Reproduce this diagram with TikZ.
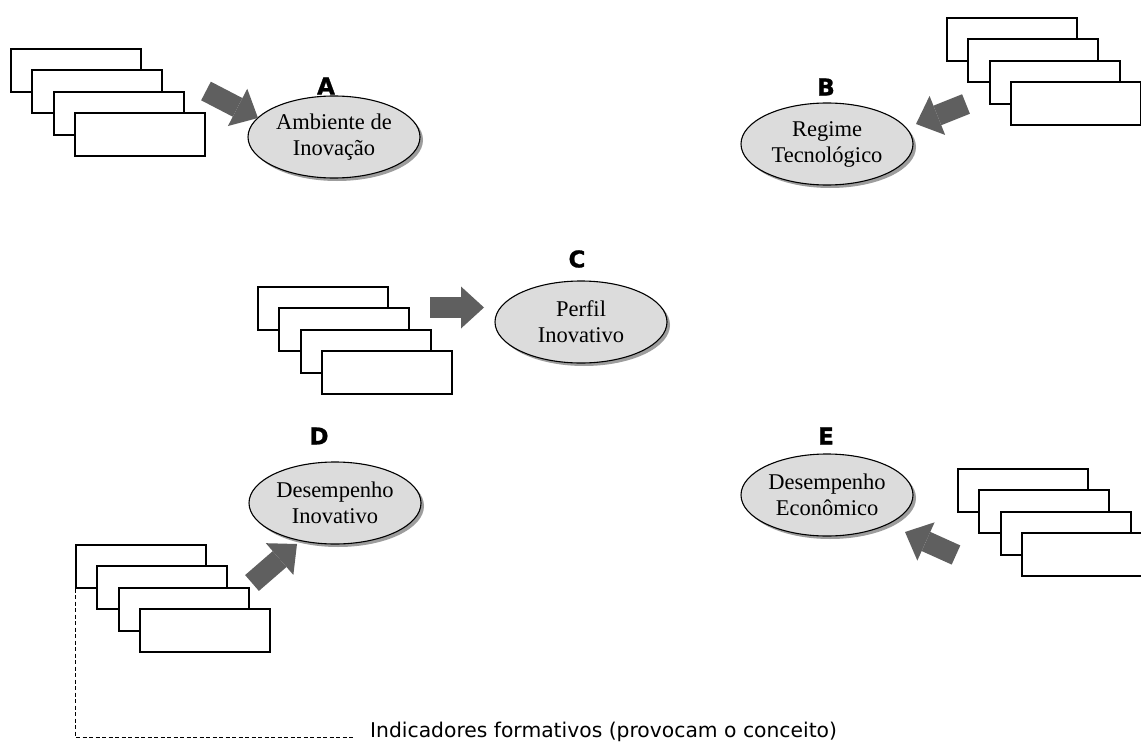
\documentclass[tikz,border=0pt]{standalone}
\usepackage{fontspec}
\setmainfont{Liberation Serif}
\newfontfamily\labfont{DejaVu Sans}
\newfontfamily\heavyfont{DejaVu Sans}[BoldFeatures={FakeBold=1.2}]
\usetikzlibrary{arrows.meta,shapes.geometric,shadows}
\definecolor{arrowgray}{RGB}{95,95,95}
\definecolor{ellfill}{RGB}{220,220,220}
\begin{document}
\begin{tikzpicture}[x=1pt,y=-1pt,
  card/.style={draw=black, fill=white, line width=1.7pt, minimum width=130pt, minimum height=43pt, inner sep=0pt, anchor=north west},
  concept/.style={ellipse, draw=black, line width=1.1pt, fill=ellfill, minimum width=172pt, minimum height=82pt, inner sep=0pt, align=center, font=\fontsize{22.5}{26}\selectfont, drop shadow={shadow xshift=3pt, shadow yshift=-3pt, fill=black!55, opacity=0.7}},
  letter/.style={font=\heavyfont\bfseries\fontsize{23}{23}\selectfont, inner sep=0pt},
  bigarrow/.style={draw=arrowgray, line width=21pt, -{Triangle[width=42pt,length=23pt,line width=0pt]}},
  dashline/.style={draw=black, line width=0.9pt, dash pattern=on 4pt off 2.5pt},
  note/.style={font=\labfont\fontsize{20.3}{22}\selectfont, inner sep=0pt, anchor=base west}
]
\useasboundingbox (0,0) rectangle (1141,752);
\clip (0,0) rectangle (1141,752);

% stacks of indicator cards
\foreach \i/\o in {0/0,1/21,2/43,3/64} {
  \node[card] (a\i) at (10+\o, 48+\o) {};
  \node[card] (b\i) at (946+\o, 17+\o) {};
  \node[card] (c\i) at (257+\o, 286+\o) {};
  \node[card] (d\i) at (75+\o, 544+\o) {};
  \node[card] (e\i) at (957+\o, 468+\o) {};
}

% concepts
\node[concept] (A) at (334,137) {Ambiente de\\Inovação};
\node[concept] (B) at (827,144) {Regime\\Tecnológico};
\node[concept] (C) at (581,322) {Perfil\\Inovativo};
\node[concept] (D) at (335,503) {Desempenho\\Inovativo};
\node[concept] (E) at (827,495) {Desempenho\\Econômico};

% letters
\node[letter] (lA) at (326,86) {A};
\node[letter] (lB) at (826,87) {B};
\node[letter] (lC) at (577,259) {C};
\node[letter] (lD) at (319,436) {D};
\node[letter] (lE) at (826,436) {E};

% arrows
\coordinate (tA) at (206,91);  \coordinate (hA) at (258,118);
\coordinate (tB) at (966,104); \coordinate (hB) at (916,124);
\coordinate (tC) at (430,307.5); \coordinate (hC) at (484,307.5);
\coordinate (tD) at (252,583); \coordinate (hD) at (297,544);
\coordinate (tE) at (956,555); \coordinate (hE) at (905,532);
\draw[bigarrow] (tA) -- (hA);
\draw[bigarrow] (tB) -- (hB);
\draw[bigarrow] (tC) -- (hC);
\draw[bigarrow] (tD) -- (hD);
\draw[bigarrow] (tE) -- (hE);

% formative indicators note
\node[note] (lbl) at (370,737) {Indicadores formativos (provocam o conceito)};
\draw[dashline] (d0.south west) |- ([xshift=-16pt]lbl.base west);
\end{tikzpicture}
\end{document}
